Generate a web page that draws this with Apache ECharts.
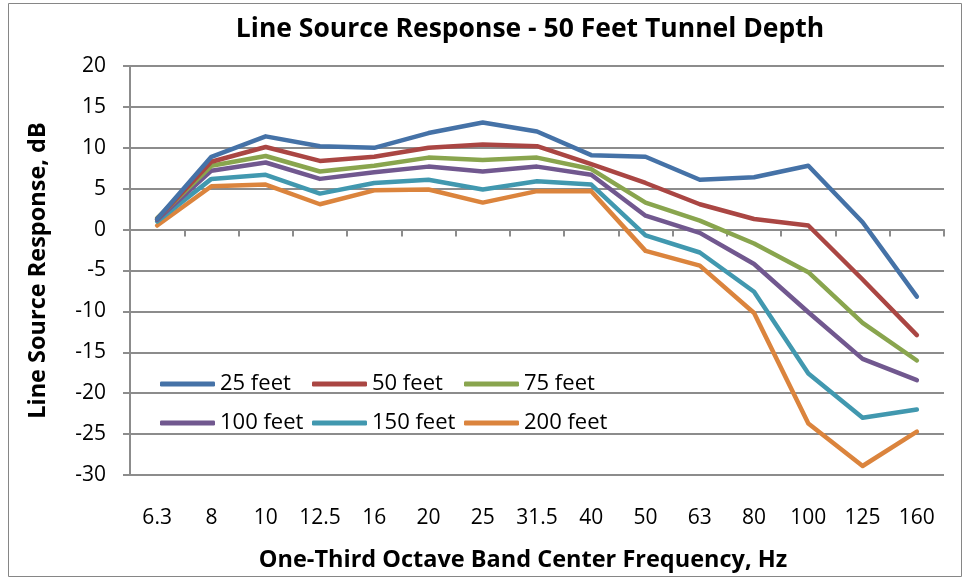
<!DOCTYPE html>
<html>
<head>
<meta charset="utf-8">
<title>Line Source Response - 50 Feet Tunnel Depth</title>
<script src="https://cdn.jsdelivr.net/npm/echarts@6/dist/echarts.min.js"></script>
<style>
  html, body { margin: 0; padding: 0; background: #ffffff; }
  #chart { width: 969px; height: 581px; }
</style>
</head>
<body>
<div id="chart"></div>
<script>
// One-third octave band centre frequencies (Hz)
const frequencies = ['6.3', '8', '10', '12.5', '16', '20', '25', '31.5', '40', '50', '63', '80', '100', '125', '160'];

// Line source response (dB) for each distance
const feet25  = [1.3, 8.9, 11.4, 10.2, 10.0, 11.8, 13.1, 12.0, 9.1, 8.9, 6.1, 6.4, 7.8, 0.9, -8.2];
const feet50  = [1.3, 8.3, 10.1, 8.4, 8.9, 10.0, 10.4, 10.2, 8.0, 5.7, 3.1, 1.3, 0.5, -6.1, -12.9];
const feet75  = [1.4, 7.8, 9.0, 7.1, 7.8, 8.8, 8.5, 8.8, 7.4, 3.3, 1.1, -1.7, -5.2, -11.4, -16.0];
const feet100 = [1.2, 7.2, 8.2, 6.2, 7.0, 7.7, 7.1, 7.7, 6.7, 1.7, -0.4, -4.2, -10.1, -15.8, -18.4];
const feet150 = [1.0, 6.2, 6.7, 4.4, 5.7, 6.1, 4.9, 5.9, 5.5, -0.7, -2.8, -7.6, -17.6, -23.0, -22.0];
const feet200 = [0.5, 5.3, 5.5, 3.1, 4.8, 4.9, 3.3, 4.7, 4.7, -2.6, -4.4, -10.2, -23.7, -28.9, -24.7];

const seriesNames = ['25 feet', '50 feet', '75 feet', '100 feet', '150 feet', '200 feet'];
const seriesValues = [feet25, feet50, feet75, feet100, feet150, feet200];
const seriesColors = ['#4572A7', '#AA4643', '#89A54E', '#71588F', '#4198AF', '#DB843D'];

const yTicks = { min: -30, max: 20, step: 5 };

const FONT = '"Open Sans", "Liberation Sans", sans-serif';
const GRID_GRAY = '#8C8C8C';

const chart = echarts.init(document.getElementById('chart'), null, { renderer: 'canvas' });

const option = {
  backgroundColor: '#ffffff',
  animation: false,
  color: seriesColors,
  title: {
    text: 'Line Source Response - 50 Feet Tunnel Depth',
    left: 525,
    top: 11,
    textAlign: 'center',
    textStyle: { fontFamily: FONT, fontWeight: 'bold', fontSize: 26.5, color: '#000000' }
  },
  graphic: [{
    type: 'rect',
    shape: { x: 8.5, y: 3.5, width: 953, height: 573 },
    style: { fill: 'none', stroke: '#868686', lineWidth: 1 },
    silent: true,
    z: -1
  }],
  legend: {
    data: seriesNames,
    left: 155,
    top: 362,
    width: 480,
    orient: 'horizontal',
    icon: 'roundRect',
    itemWidth: 55,
    itemHeight: 5,
    itemGap: 5,
    textStyle: {
      fontFamily: FONT,
      fontSize: 22,
      color: '#000000',
      width: 87,
      lineHeight: 34
    }
  },
  grid: { left: 130, right: 25, top: 66, bottom: 106, containLabel: false },
  xAxis: [
    {
      // axis line and ticks drawn along the zero line
      type: 'category',
      data: frequencies,
      boundaryGap: true,
      axisLine: { onZero: true, lineStyle: { color: GRID_GRAY, width: 2 } },
      axisTick: { show: true, length: 7, lineStyle: { color: GRID_GRAY, width: 2 } },
      axisLabel: { show: false },
      splitLine: { show: false }
    },
    {
      // frequency labels along the bottom of the plot
      type: 'category',
      data: frequencies,
      position: 'bottom',
      boundaryGap: true,
      axisLine: { show: false, onZero: false },
      axisTick: { show: false },
      axisLabel: { fontFamily: FONT, fontSize: 21, color: '#000000', margin: 33 },
      name: 'One-Third Octave Band Center Frequency, Hz',
      nameLocation: 'middle',
      nameGap: 73,
      nameTextStyle: { fontFamily: FONT, fontWeight: 'bold', fontSize: 23.5, color: '#000000', padding: [0, 28, 0, 0] }
    }
  ],
  yAxis: {
    type: 'value',
    min: yTicks.min,
    max: yTicks.max,
    interval: yTicks.step,
    axisLine: { show: true, lineStyle: { color: GRID_GRAY, width: 2 } },
    axisTick: { show: true, length: 7, lineStyle: { color: GRID_GRAY, width: 2 } },
    axisLabel: { fontFamily: FONT, fontSize: 21, color: '#000000', margin: 24 },
    splitLine: { show: true, lineStyle: { color: GRID_GRAY, width: 2 } },
    name: 'Line Source Response, dB',
    nameLocation: 'middle',
    nameGap: 80,
    nameTextStyle: { fontFamily: FONT, fontWeight: 'bold', fontSize: 23.5, color: '#000000' }
  },
  series: seriesNames.map((name, i) => ({
    name: name,
    type: 'line',
    xAxisIndex: 0,
    data: seriesValues[i],
    showSymbol: false,
    symbol: 'none',
    lineStyle: { width: 4.5, color: seriesColors[i], cap: 'round', join: 'round' },
    itemStyle: { color: seriesColors[i] },
    z: 10 - i
  }))
};

chart.setOption(option);
</script>
</body>
</html>
